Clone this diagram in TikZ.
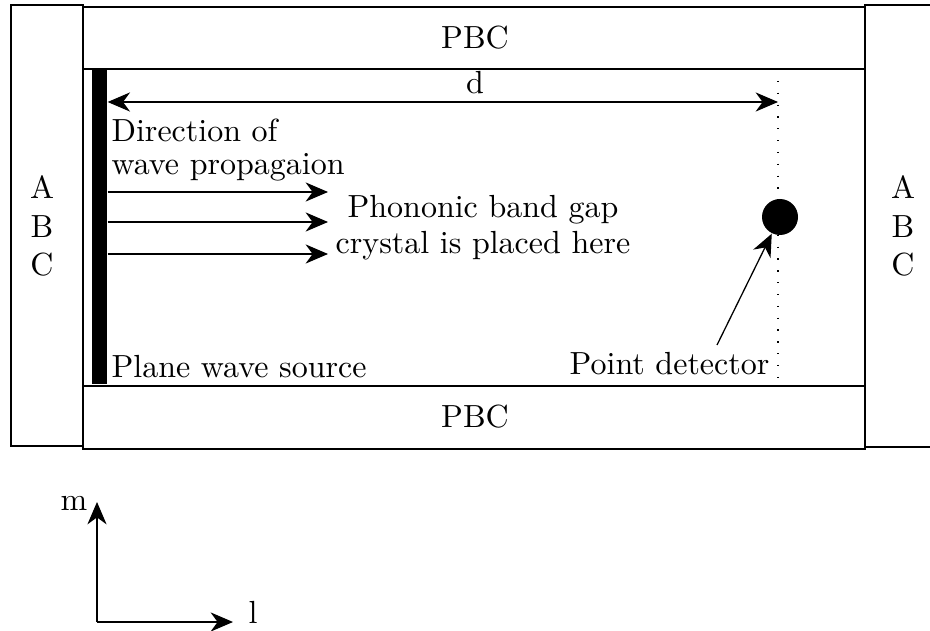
\documentclass[tikz,border=0pt]{standalone}
\usetikzlibrary{arrows.meta}
\begin{document}
\begin{tikzpicture}[x=0.3125pt, y=-0.3125pt,
  font=\fontsize{10}{10.5}\selectfont,
  >={Stealth[length=7pt,width=6pt,inset=2.2pt]},
  txt/.style={inner sep=0pt},
  frame/.style={draw=black, line width=0.45pt}]
\useasboundingbox (0,0) rectangle (930,631);

% absorbing boundaries (left, right) and periodic boundaries (top, bottom)
\draw[frame] (11,5) rectangle (83,446);
\draw[frame] (83,7) rectangle (865,69);
\draw[frame] (83,386) rectangle (865,449);
\draw[frame] (940,5) -- (865,5) -- (865,447) -- (940,447);

\node[txt] (pbctop) at (475,38) {PBC};
\node[txt] (pbcbot) at (475,417) {PBC};
\node[txt, align=center, font=\fontsize{10}{12}\selectfont] (abcl) at (42,226) {A\\B\\C};
\node[txt, align=center, font=\fontsize{10}{12}\selectfont] (abcr) at (903,226) {A\\B\\C};

% plane wave source
\node[fill=black, inner sep=0pt, minimum width=4.7pt, minimum height=98.4pt] (src) at (99.5,226.5) {};

% detector line and point detector
\coordinate (dtop) at (778,69);
\coordinate (dbot) at (778,385);
\draw[dash pattern=on 0.4pt off 3.3pt, line width=0.4pt] (dtop) -- (dbot);
\node[circle, fill=black, inner sep=0pt, minimum size=11.25pt] (det) at (780,217) {};

% distance d
\coordinate (dl) at (src.east |- 0,102);
\coordinate (dr) at (778,102);
\draw[<->] (dl) -- (dr);
\node[txt, anchor=base] (dlab) at (475,94) {d};

% propagation direction
\node[txt, anchor=north west, align=left] (dirlab) at (111,118) {Direction of\\wave propagaion};
\foreach \yy/\nm in {192/a1, 222/a2, 254/a3}{
  \coordinate (\nm s) at (src.east |- 0,\yy);
  \coordinate (\nm e) at (328,\yy);
  \draw[->] (\nm s) -- (\nm e);
}
\node[txt, align=center, font=\fontsize{10}{11.2}\selectfont, anchor=north] (pbg) at (483,195) {Phononic band gap\\crystal is placed here};

\node[txt, anchor=base west] (srclab) at (111,377) {Plane wave source};
\node[txt, anchor=base east] (detlab) at (770,375) {Point detector};
\coordinate (pdtail) at (717,345);
\draw[->] (pdtail) -- (det);

% axes
\coordinate (o) at (97,622);
\coordinate (mtip) at (97,502);
\coordinate (ltip) at (233,622);
\draw[->] (o) -- (mtip);
\draw[->] (o) -- (ltip);
\node[txt, anchor=base east] (mlab) at (88,510) {m};
\node[txt, anchor=base west] (llab) at (248,623) {l};
\end{tikzpicture}
\end{document}
